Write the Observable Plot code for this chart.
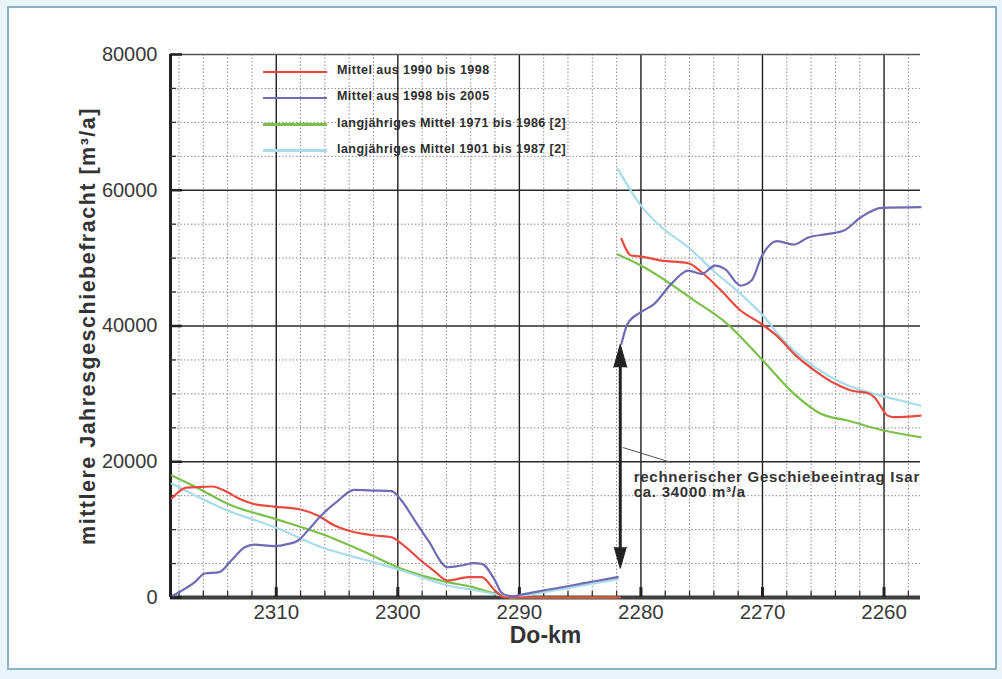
<!DOCTYPE html>
<html>
<head>
<meta charset="utf-8">
<script src="https://cdn.jsdelivr.net/npm/d3@7"></script>
<script src="https://cdn.jsdelivr.net/npm/@observablehq/plot@0.6"></script>
<style>
  html, body { margin: 0; padding: 0; }
  body { width: 1002px; height: 679px; background: #e9f5f9; position: relative; overflow: hidden;
         font-family: "Liberation Sans", Arial, sans-serif; }
  #frame { position: absolute; left: 7px; top: 6px; width: 986px; height: 660px;
           border: 2px solid #8bb2c4; background: #ffffff; }
  #chart { position: absolute; left: 0; top: 0; }
  #legend { position: absolute; left: 263px; top: 59px; }
  .row { position: relative; height: 26.3px; }
  .sw { position: absolute; left: 0; top: 11.5px; width: 64px; height: 2.5px; }
  .lb { position: absolute; left: 74px; top: 4px; white-space: nowrap; font-size: 12.5px; font-weight: bold;
        letter-spacing: 0.45px; color: #2e2e2e; }
</style>
</head>
<body>
<div id="frame"></div>
<div id="chart"></div>
<div id="legend"></div>
<script>
// ---- axis / tick data ----
const xDomain = [2318.7, 2257];
const yDomain = [0, 80000];
const majorKm = [2310, 2300, 2290, 2280, 2270, 2260];
const minorKm = d3.range(2318, 2257, -2);
const majorY = [20000, 40000, 60000];
const yTicks = [0, 20000, 40000, 60000, 80000];
const minorY = d3.range(5000, 80000, 5000);

// ---- series: Mittel aus 1990 bis 1998 (red) ----
const kmRed = [2318.6, 2318.0, 2317.4, 2316.0, 2315.3, 2314.0, 2313.0, 2312.0, 2310.2, 2308.0, 2306.6, 2305.2,
  2304.1, 2301.9, 2300.5, 2299.7, 2298.1, 2297.0, 2295.9, 2294.2, 2293.1, 2292.0, 2291.2, 2289.0, 2286.0, 2283.0, 2281.7,
  null,
  2281.6, 2280.8, 2280.0, 2278.3, 2276.1, 2275.0, 2273.4, 2271.8, 2270.1, 2268.7, 2267.4, 2265.7, 2264.0, 2262.7,
  2261.3, 2260.8, 2259.7, 2259.2, 2257.0];
const valRed = [14600, 15600, 16200, 16300, 16350, 15500, 14500, 13850, 13400, 12960, 12080, 10600,
  9870, 9130, 8880, 7950, 5450, 3900, 2500, 3000, 3000, 1030, 0, 0, 0, 0, 0,
  null,
  52840, 50380, 50230, 49640, 49250, 47920, 45220, 42280, 40320, 38360, 35900, 33440, 31480, 30490,
  30100, 29500, 26800, 26560, 26800];

// ---- series: Mittel aus 1998 bis 2005 (blue) ----
const kmBlue = [2318.5, 2318.0, 2316.7, 2315.9, 2314.7, 2313.7, 2312.6, 2311.8, 2310.2, 2309.0, 2308.2, 2307.4,
  2306.3, 2304.9, 2303.6, 2301.9, 2300.5, 2299.7, 2298.6, 2297.5, 2295.9, 2294.8, 2293.7, 2293.1, 2292.0, 2291.5,
  2291.0, 2290.4, 2289.9, 2287.8, 2285.7, 2283.8, 2281.9,
  null,
  2281.6, 2281.1, 2280.0, 2278.9, 2277.5, 2276.1, 2275.0, 2273.9, 2273.1, 2271.8, 2270.9, 2270.1, 2268.8, 2267.4,
  2266.3, 2264.6, 2263.3, 2261.9, 2260.2, 2257.0];
const valBlue = [300, 780, 2250, 3530, 3730, 5450, 7410, 7800, 7560, 7900, 8400, 9870,
  12080, 14290, 15860, 15760, 15660, 14290, 11340, 8400, 4460, 4710, 5050, 4960, 2500, 780,
  300, 200, 400, 1100, 1770, 2400, 3000,
  null,
  37370, 40320, 42030, 43260, 46210, 48170, 47680, 48900, 48420, 45960, 46700, 50130, 52500, 52000,
  52980, 53570, 54060, 56020, 57400, 57500];

// ---- series: langjähriges Mittel 1971 bis 1986 (green) ----
const kmGreen = [2318.6, 2316.0, 2314.0, 2310.1, 2306.3, 2303.0, 2299.7, 2295.9, 2294.0, 2292.0, 2290.5, 2281.9,
  null,
  2281.9, 2280.0, 2275.6, 2272.9, 2270.1, 2267.4, 2265.2, 2263.0, 2260.0, 2257.0];
const valGreen = [17970, 15700, 13800, 11590, 9380, 6920, 4220, 2260, 1600, 590, 0, 0,
  null,
  50520, 48900, 43750, 40320, 35160, 30000, 27060, 26070, 24600, 23610];

// ---- series: langjähriges Mittel 1901 bis 1987 (light blue) ----
const kmLight = [2318.6, 2317.5, 2314.0, 2310.1, 2306.3, 2303.0, 2299.7, 2295.9, 2293.5, 2291.5, 2290.5, 2289.9,
  2285.7, 2281.9,
  null,
  2281.9, 2280.0, 2278.3, 2276.1, 2273.9, 2271.8, 2270.1, 2268.0, 2265.7, 2263.3, 2260.8, 2259.2, 2257.0];
const valLight = [16790, 15800, 12810, 10360, 7410, 5700, 3980, 1770, 1030, 300, 0, 200,
  1500, 2700,
  null,
  63150, 57740, 54540, 51600, 47920, 44740, 41790, 37370, 33930, 31480, 30000, 29270, 28280];

// ---- legend & annotation ----
const seriesNames = ["Mittel aus 1990 bis 1998", "Mittel aus 1998 bis 2005",
  "langjähriges Mittel 1971 bis 1986 [2]", "langjähriges Mittel 1901 bis 1987 [2]"];
const seriesColors = ["#e84a40", "#6f6cb4", "#7cc04c", "#a9dcea"];
const arrowKm = [2281.7];
const arrowLow = [4300];
const arrowHigh = [37300];
const leaderKm = [2281.5, 2277.5];
const leaderVal = [22100, 19900];
const noteKm = [2280.6];
const noteVal = [18700];
const noteText = ["rechnerischer Geschiebeeintrag Isar\nca. 34000 m³/a"];
const xTitle = ["Do-km"];
const yTitle = ["mittlere Jahresgeschiebefracht [m³/a]"];

const rows = (ks, vs) => ks.map((k, i) => ({km: k, v: vs[i]}));
const red = rows(kmRed, valRed), blue = rows(kmBlue, valBlue),
      green = rows(kmGreen, valGreen), light = rows(kmLight, valLight);

const hasSpike = typeof Plot.spike === "function";
const headMarks = hasSpike ? [
  Plot.vector(arrowKm, {x: d => d, y: () => arrowHigh[0], shape: "spike", anchor: "end", rotate: 0,
    length: 23, r: 6.5, stroke: "#222", fill: "#222", fillOpacity: 1, strokeWidth: 1}),
  Plot.vector(arrowKm, {x: d => d, y: () => arrowLow[0], shape: "spike", anchor: "end", rotate: 180,
    length: 21, r: 6, stroke: "#222", fill: "#222", fillOpacity: 1, strokeWidth: 1})
] : [
  Plot.arrow(arrowKm, {x1: d => d, x2: d => d, y1: () => (arrowLow[0] + arrowHigh[0]) / 2, y2: () => arrowHigh[0],
    stroke: "#222", strokeWidth: 3, headLength: 18, headAngle: 40}),
  Plot.arrow(arrowKm, {x1: d => d, x2: d => d, y1: () => (arrowLow[0] + arrowHigh[0]) / 2, y2: () => arrowLow[0],
    stroke: "#222", strokeWidth: 3, headLength: 18, headAngle: 40})
];

const chart = Plot.plot({
  width: 1002, height: 679,
  marginLeft: 170, marginRight: 82, marginTop: 54, marginBottom: 82,
  style: {background: "transparent", fontFamily: "'Liberation Sans', Arial, sans-serif", overflow: "visible"},
  x: {domain: xDomain},
  y: {domain: yDomain},
  marks: [
    // grid
    Plot.ruleX(minorKm.filter(k => k % 10 !== 0), {stroke: "#8c8c8c", strokeWidth: 1, strokeDasharray: "1.5,2"}),
    Plot.ruleY(minorY.filter(v => v % 20000 !== 0), {stroke: "#8c8c8c", strokeWidth: 1, strokeDasharray: "1.5,2"}),
    Plot.ruleX(majorKm, {stroke: "#1e1e1e", strokeWidth: 1.4}),
    Plot.ruleY(majorY, {stroke: "#2a2a2a", strokeWidth: 1.3}),
    Plot.ruleY([yDomain[1]], {stroke: "#555", strokeWidth: 1.6}),
    // axes lines & inward ticks
    Plot.ruleY([yDomain[0]], {stroke: "#3f3f3f", strokeWidth: 4}),
    Plot.ruleX([xDomain[0]], {stroke: "#222", strokeWidth: 3}),
    Plot.ruleX(minorKm, {y1: yDomain[0], y2: yDomain[0], insetBottom: 6, stroke: "#333", strokeWidth: 1.3}),
    Plot.ruleX(majorKm, {y1: yDomain[0], y2: yDomain[0], insetBottom: 10, stroke: "#222", strokeWidth: 3}),
    Plot.ruleY(minorY, {x1: xDomain[0], x2: xDomain[0], insetRight: -6, stroke: "#333", strokeWidth: 1.3}),
    Plot.ruleY(yTicks, {x1: xDomain[0], x2: xDomain[0], insetRight: -12, stroke: "#222", strokeWidth: 2.5}),
    // series
    Plot.line(green, {x: "km", y: "v", stroke: seriesColors[2], strokeWidth: 2.2, curve: "monotone-x"}),
    Plot.line(light, {x: "km", y: "v", stroke: seriesColors[3], strokeWidth: 2.2, curve: "monotone-x"}),
    Plot.line(red, {x: "km", y: "v", stroke: seriesColors[0], strokeWidth: 2.2, curve: "monotone-x"}),
    Plot.line(blue, {x: "km", y: "v", stroke: seriesColors[1], strokeWidth: 2.2, curve: "monotone-x"}),
    // annotation arrow
    Plot.ruleX(arrowKm, {y1: () => arrowHigh[0], y2: () => arrowLow[0], insetTop: 12, insetBottom: 12,
      stroke: "#222", strokeWidth: 3}),
    ...headMarks,
    Plot.link([0], {x1: () => leaderKm[0], y1: () => leaderVal[0], x2: () => leaderKm[1], y2: () => leaderVal[1],
      stroke: "#555", strokeWidth: 1}),
    Plot.text(noteText, {x: () => noteKm[0], y: () => noteVal[0], text: d => d, textAnchor: "start",
      lineAnchor: "top", lineHeight: 1.05, fontSize: 15, fontWeight: "bold", fill: "#333"}),
    // axes
    Plot.axisX({ticks: majorKm, tickSize: 0, tickPadding: 7, fontSize: 20.5, color: "#3a3a3a",
      tickFormat: d => String(d), label: null}),
    Plot.axisY({ticks: yTicks, tickSize: 0, tickPadding: 13, fontSize: 20, color: "#3a3a3a",
      tickFormat: d => String(d), label: null}),
    Plot.text(xTitle, {frameAnchor: "bottom", dy: 45, text: d => d, fontSize: 23, fontWeight: "bold", fill: "#333"}),
    Plot.text(yTitle, {frameAnchor: "left", dx: -82, rotate: -90, textAnchor: "middle", text: d => d,
      fontSize: 21.5, fontWeight: "bold", fill: "#333"})
  ]
});
document.getElementById("chart").appendChild(chart);
d3.select(chart).selectAll("text")
  .filter(function () { return this.textContent.startsWith("rechnerischer"); })
  .style("letter-spacing", "0.75px");
d3.select(chart).selectAll("text")
  .filter(function () { return this.textContent.startsWith("mittlere"); })
  .style("letter-spacing", "1.5px");

// legend (HTML, inside plot area top-left)
const leg = d3.select("#legend");
seriesNames.forEach((name, i) => {
  const r = leg.append("div").attr("class", "row");
  r.append("div").attr("class", "sw").style("background", seriesColors[i]);
  r.append("div").attr("class", "lb").text(name);
});
</script>
</body>
</html>
